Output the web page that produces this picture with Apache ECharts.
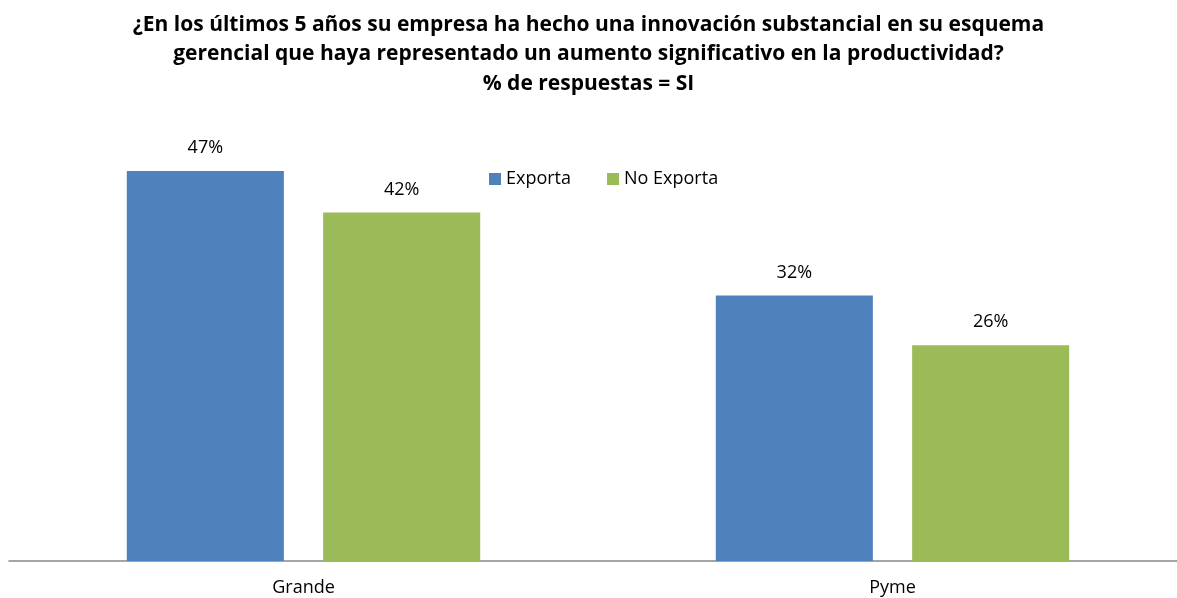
<!DOCTYPE html>
<html>
<head>
<meta charset="utf-8">
<script src="https://cdn.jsdelivr.net/npm/echarts@6/dist/echarts.min.js"></script>
<style>
  html, body { margin: 0; padding: 0; background: #ffffff; }
  #chart { width: 1177px; height: 598px; }
</style>
</head>
<body>
<div id="chart"></div>
<script>
// Company size groups on the x axis
const categories = ['Grande', 'Pyme'];
// Share of "SI" answers (%), by export status
const exportaValues = [47, 32];
const noExportaValues = [42, 26];
const seriesNames = ['Exporta', 'No Exporta'];

const titleText = '¿En los últimos 5 años su empresa ha hecho una innovación substancial en su esquema\n' +
  'gerencial que haya representado un aumento significativo en la productividad?\n' +
  '% de respuestas = SI';

const FONT = '"Open Sans", Lato, sans-serif';

const chart = echarts.init(document.getElementById('chart'), null, { renderer: 'canvas' });

const labelStyle = {
  show: true,
  position: 'top',
  distance: 14,
  formatter: p => p.value + '%',
  color: '#000000',
  fontFamily: FONT,
  fontSize: 18
};

chart.setOption({
  animation: false,
  backgroundColor: '#ffffff',
  title: {
    text: titleText,
    left: 'center',
    top: 5,
    textStyle: {
      fontFamily: FONT,
      fontWeight: 'bold',
      fontSize: 21,
      lineHeight: 29.5,
      color: '#000000'
    }
  },
  legend: {
    data: seriesNames,
    left: 489,
    top: 170,
    padding: 0,
    itemWidth: 12,
    itemHeight: 12,
    itemGap: 36,
    icon: 'rect',
    textStyle: { fontFamily: FONT, fontSize: 18, color: '#000000' }
  },
  grid: {
    left: 9,
    width: 1178,
    top: 146,
    bottom: 37,
    containLabel: false,
    outerBoundsMode: 'none'
  },
  xAxis: {
    type: 'category',
    data: categories,
    axisLine: { show: true, lineStyle: { color: '#888888', width: 1.5 } },
    axisTick: { show: false },
    axisLabel: {
      fontFamily: FONT,
      fontSize: 18,
      color: '#000000',
      margin: 18
    }
  },
  yAxis: {
    type: 'value',
    min: 0,
    max: 50,
    show: false,
    splitLine: { show: false }
  },
  series: [
    {
      name: seriesNames[0],
      type: 'bar',
      data: exportaValues,
      barGap: '25%',
      barCategoryGap: '40%',
      itemStyle: { color: '#4F81BD' },
      label: labelStyle
    },
    {
      name: seriesNames[1],
      type: 'bar',
      data: noExportaValues,
      barGap: '25%',
      barCategoryGap: '40%',
      itemStyle: { color: '#9BBB59' },
      label: labelStyle
    }
  ]
});
</script>
</body>
</html>
